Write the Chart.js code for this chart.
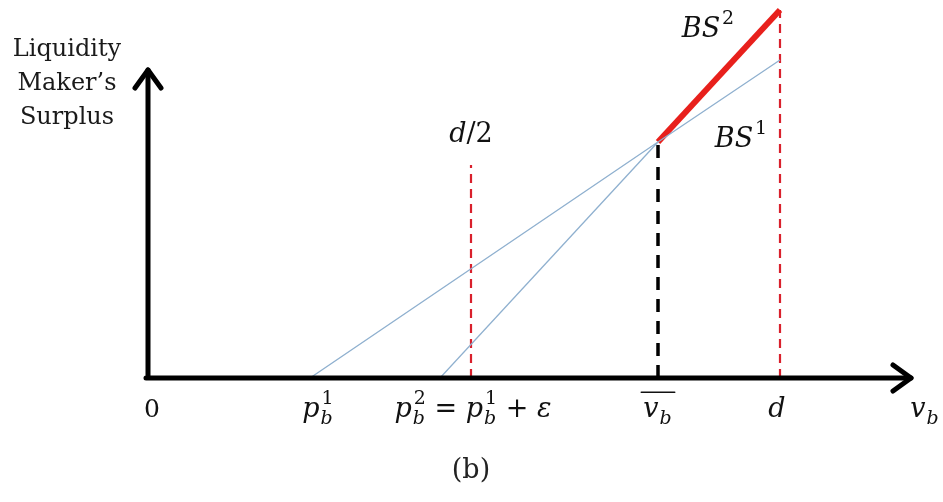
<!DOCTYPE html>
<html>
<head>
<meta charset="utf-8">
<script src="https://cdn.jsdelivr.net/npm/chart.js@4.4.1/dist/chart.umd.min.js"></script>
<style>
  html, body { margin: 0; padding: 0; background: #fff; }
  #wrap { width: 943px; height: 502px; }
</style>
</head>
<body>
<div id="wrap"><canvas id="chart" width="943" height="502"></canvas></div>
<script>
// Values (x = value v_b, y = surplus)
const xMax = 765;
const yMax = 373;
const pb1 = 162;
const pb2 = 292;
const vBar = 510;
const dHalf = 323;
const dVal = 632;

const bs1X = [pb1, vBar, dVal];
const bs1Y = [0, 236, 318];
const bs2LowX = [pb2, vBar];
const bs2LowY = [0, 236];
const bs2HighX = [vBar, dVal];
const bs2HighY = [236, 368];

const guideX = [dHalf, vBar, dVal];
const guideTop = [213, 236, 368];

const yArrowTop = 308; // top of the vertical axis arrow

const toPoints = (xs, ys) => xs.map((x, i) => ({ x, y: ys[i] }));

const SERIF = '"DejaVu Serif", "Liberation Serif", serif';

// draw a little math expression: tokens are {t, it} or {sup, sub}
const measureMath = (ctx, tokens, size) => {
  let w = 0;
  tokens.forEach(tk => {
    if (tk.t !== undefined) {
      ctx.font = `${tk.it ? 'italic ' : ''}${size}px ${SERIF}`;
      w += ctx.measureText(tk.t).width;
    } else {
      ctx.font = `${Math.round(size * 0.7)}px ${SERIF}`;
      const a = tk.sup ? ctx.measureText(tk.sup).width : 0;
      ctx.font = `italic ${Math.round(size * 0.7)}px ${SERIF}`;
      const b = tk.sub ? ctx.measureText(tk.sub).width : 0;
      w += Math.max(a, b) + 2;
    }
  });
  return w;
};

const drawMath = (ctx, tokens, cx, cy, size, overline) => {
  const w = measureMath(ctx, tokens, size);
  let x = cx - w / 2;
  ctx.textBaseline = 'middle';
  ctx.textAlign = 'left';
  ctx.fillStyle = '#111';
  tokens.forEach(tk => {
    if (tk.t !== undefined) {
      ctx.font = `${tk.it ? 'italic ' : ''}${size}px ${SERIF}`;
      ctx.fillText(tk.t, x, cy);
      x += ctx.measureText(tk.t).width;
    } else {
      const small = Math.round(size * 0.7);
      let a = 0, b = 0;
      if (tk.sup) {
        ctx.font = `${small}px ${SERIF}`;
        ctx.fillText(tk.sup, x + 2, cy - size * 0.42);
        a = ctx.measureText(tk.sup).width;
      }
      if (tk.sub) {
        ctx.font = `italic ${small}px ${SERIF}`;
        ctx.fillText(tk.sub, x + 1, cy + size * 0.32);
        b = ctx.measureText(tk.sub).width;
      }
      x += Math.max(a, b) + 2;
    }
  });
  if (overline) {
    ctx.strokeStyle = '#111';
    ctx.lineWidth = 1.6;
    ctx.beginPath();
    ctx.moveTo(cx - w / 2 - 2, cy - size * 0.66);
    ctx.lineTo(cx + w / 2 + 2, cy - size * 0.66);
    ctx.stroke();
  }
};

// Axes with arrowheads, labels and annotations
const diagramPlugin = {
  id: 'diagram',
  beforeDatasetsDraw(chart) {
    const { ctx, scales: { x, y } } = chart;
    ctx.save();
    // dashed guides
    guideX.forEach((gx, i) => {
      ctx.beginPath();
      ctx.setLineDash(gx === vBar ? [13, 9] : [9, 6]);
      ctx.strokeStyle = gx === vBar ? '#000' : '#d9202c';
      ctx.lineWidth = gx === vBar ? 3.5 : 2.2;
      ctx.moveTo(x.getPixelForValue(gx), y.getPixelForValue(0));
      ctx.lineTo(x.getPixelForValue(gx), y.getPixelForValue(guideTop[i]));
      ctx.stroke();
    });
    ctx.restore();
  },
  afterDatasetsDraw(chart) {
    const { ctx, scales: { x, y } } = chart;
    const x0 = x.getPixelForValue(0), y0 = y.getPixelForValue(0);
    const xEnd = x.getPixelForValue(xMax) - 2, yEnd = y.getPixelForValue(yArrowTop);
    ctx.save();
    ctx.strokeStyle = '#000';
    ctx.lineWidth = 5;
    ctx.lineCap = 'round';
    ctx.lineJoin = 'round';
    ctx.beginPath();
    ctx.moveTo(x0, y0);
    ctx.lineTo(x0, yEnd);
    ctx.moveTo(x0 - 2, y0);
    ctx.lineTo(xEnd, y0);
    ctx.stroke();
    // arrowheads
    ctx.beginPath();
    ctx.moveTo(x0 - 13, yEnd + 18);
    ctx.lineTo(x0, yEnd);
    ctx.lineTo(x0 + 13, yEnd + 18);
    ctx.moveTo(xEnd - 18, y0 - 13);
    ctx.lineTo(xEnd, y0);
    ctx.lineTo(xEnd - 18, y0 + 13);
    ctx.stroke();

    // y-axis title
    ctx.fillStyle = '#1a1a1a';
    ctx.font = `24px ${SERIF}`;
    ctx.textAlign = 'center';
    ctx.textBaseline = 'middle';
    ['Liquidity', 'Maker\u2019s', 'Surplus'].forEach((s, i) => ctx.fillText(s, 67, 50 + i * 34));

    // x tick labels
    const ly = y0 + 32;
    const px = v => x.getPixelForValue(v);
    drawMath(ctx, [{ t: '0' }], px(0) + 4, ly, 25);
    drawMath(ctx, [{ t: 'p', it: true }, { sup: '1', sub: 'b' }], px(pb1) + 8, ly, 27);
    drawMath(ctx, [{ t: 'p', it: true }, { sup: '2', sub: 'b' }, { t: ' = ' }, { t: 'p', it: true }, { sup: '1', sub: 'b' }, { t: ' + ' }, { t: '\u03b5', it: true }], px(dHalf) + 2, ly, 27);
    drawMath(ctx, [{ t: 'v', it: true }, { sub: 'b' }], px(vBar), ly, 27, true);
    drawMath(ctx, [{ t: 'd', it: true }], px(dVal) - 3, ly, 27);
    drawMath(ctx, [{ t: 'v', it: true }, { sub: 'b' }], px(xMax) + 12, ly, 27);
    ctx.font = `27px ${SERIF}`;
    ctx.fillStyle = '#222';
    ctx.textAlign = 'center';
    ctx.fillText('(b)', px(dHalf), y0 + 93);

    // curve annotations
    drawMath(ctx, [{ t: 'd', it: true }, { t: '/2' }], px(dHalf), y.getPixelForValue(dHalf - 80), 27);
    drawMath(ctx, [{ t: 'BS', it: true }, { sup: '2' }], px(vBar + 50), y.getPixelForValue(348), 27);
    drawMath(ctx, [{ t: 'BS', it: true }, { sup: '1' }], px(vBar + 83), y.getPixelForValue(238), 27);
    ctx.restore();
  }
};

new Chart(document.getElementById('chart'), {
  type: 'scatter',
  data: {
    datasets: [
      { data: toPoints(bs1X, bs1Y), showLine: true, borderColor: '#8fb0cf', borderWidth: 1.3, pointRadius: 0 },
      { data: toPoints(bs2LowX, bs2LowY), showLine: true, borderColor: '#8fb0cf', borderWidth: 1.3, pointRadius: 0 },
      { data: toPoints(bs2HighX, bs2HighY), showLine: true, borderColor: '#e8201c', borderWidth: 6, pointRadius: 0, borderCapStyle: 'butt' }
    ]
  },
  options: {
    responsive: false,
    animation: false,
    layout: { padding: { left: 148, right: 30, top: 5, bottom: 124 } },
    plugins: { legend: { display: false }, tooltip: { enabled: false } },
    scales: {
      x: { type: 'linear', min: 0, max: xMax, display: false },
      y: { type: 'linear', min: 0, max: yMax, display: false }
    }
  },
  plugins: [diagramPlugin]
});
</script>
</body>
</html>
